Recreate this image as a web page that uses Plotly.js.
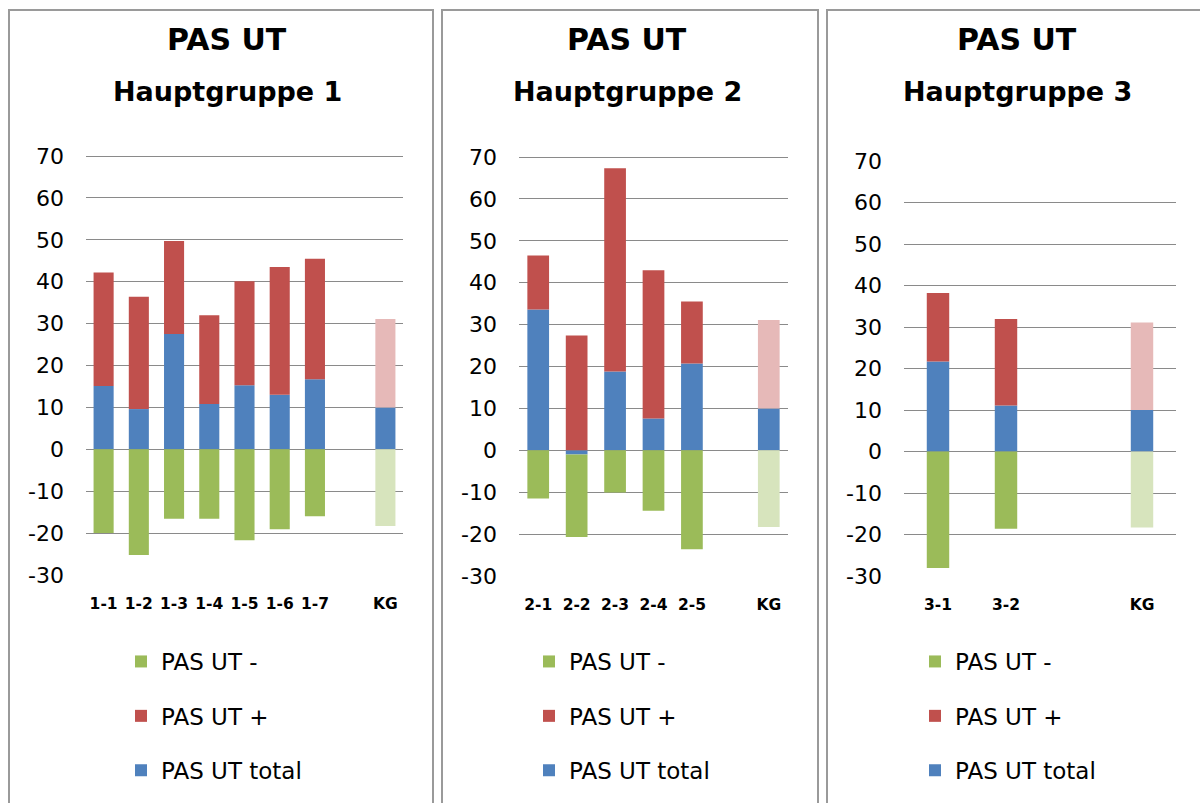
<!DOCTYPE html>
<html>
<head>
<meta charset="utf-8">
<script src="https://cdn.plot.ly/plotly-3.0.1.min.js"></script>
<style>html,body{margin:0;padding:0;background:#fff;}#chart{width:1200px;height:803px;}</style>
</head>
<body>
<div id="chart"></div>
<script>
// ---- data ----
const cats1 = ['1-1','1-2','1-3','1-4','1-5','1-6','1-7',' ','KG'];
const total1 = [15.1, 9.6, 27.5, 10.8, 15.3, 13.0, 16.7, null, 10.0];
const plus1  = [27.1, 26.8, 22.2, 21.2, 24.8, 30.5, 28.8, null, 21.1];
const minus1 = [-20.0, -25.2, -16.6, -16.6, -21.7, -19.1, -16.0, null, -18.3];

const cats2 = ['2-1','2-2','2-3','2-4','2-5',' ','KG'];
const total2 = [33.6, -1.0, 18.8, 7.6, 20.7, null, 10.0];
const plus2  = [12.9, 27.4, 48.5, 35.4, 14.8, null, 21.1];
const minus2 = [-11.5, -19.7, -10.1, -14.4, -23.6, null, -18.3];

const cats3 = ['3-1','3-2',' ','KG'];
const total3 = [21.7, 11.1, null, 10.0];
const plus3  = [16.5, 20.8, null, 21.1];
const minus3 = [-28.1, -18.6, null, -18.3];

const yTickVals = [-30, -20, -10, 0, 10, 20, 30, 40, 50, 60, 70];
const yTickText = ['-30', '-20', '-10', '0', '10', '20', '30', '40', '50', '60', '70'];

const seriesNames = ['PAS UT total', 'PAS UT +', 'PAS UT -'];
const titleMain = 'PAS UT';
const titleSubs = ['Hauptgruppe 1', 'Hauptgruppe 2', 'Hauptgruppe 3'];

// ---- styles ----
const BLUE = '#4F81BD', RED = '#C0504D', GREEN = '#9BBB59';
const RED_L = '#E6B9B8', GREEN_L = '#D7E4BD';
const FONT = 'DejaVu Sans, Verdana, sans-serif';

function colorsFor(cats, base, light) {
  return cats.map(c => c === 'KG' ? light : base);
}

const panels = [
  {cats: cats1, total: total1, plus: plus1, minus: minus1, x: 'x', y: 'y', legend: 'legend', w: 0.57},
  {cats: cats2, total: total2, plus: plus2, minus: minus2, x: 'x2', y: 'y2', legend: 'legend2', w: 0.565},
  {cats: cats3, total: total3, plus: plus3, minus: minus3, x: 'x3', y: 'y3', legend: 'legend3', w: 0.33}
];

const traces = [];
panels.forEach((p, i) => {
  const common = {type: 'bar', x: p.cats, xaxis: p.x, yaxis: p.y, legend: p.legend, width: p.w,
                  hoverinfo: 'x+y+name'};
  traces.push(Object.assign({}, common, {
    name: seriesNames[0], y: p.total, legendgroup: 't' + i, legendrank: 3,
    marker: {color: colorsFor(p.cats, BLUE, BLUE), line: {width: 0}}
  }));
  traces.push(Object.assign({}, common, {
    name: seriesNames[1], y: p.plus, legendgroup: 'p' + i, legendrank: 2,
    marker: {color: colorsFor(p.cats, RED, RED_L), line: {width: 0}}
  }));
  traces.push(Object.assign({}, common, {
    name: seriesNames[2], y: p.minus, legendgroup: 'm' + i, legendrank: 1,
    marker: {color: colorsFor(p.cats, GREEN, GREEN_L), line: {width: 0}}
  }));
});

const W = 1200, H = 803;
const px = v => v / W;
const py = v => 1 - v / H;

function yax(top, bottom) {
  // range extends slightly above 70 so the top gridline is drawn
  return {
    domain: [py(bottom), py(top - 1)], range: [-30, 70.24],
    tickmode: 'array', tickvals: yTickVals, ticktext: yTickText,
    showgrid: true, gridcolor: '#8a8a8a', gridwidth: 1.4,
    zeroline: true, zerolinecolor: '#8a8a8a', zerolinewidth: 1.4,
    showline: false, ticks: '', ticklabelstandoff: 21,
    tickfont: {family: FONT, size: 22, color: '#000'}, fixedrange: true
  };
}
function xax(l, r, cats) {
  return {
    domain: [px(l), px(r)], type: 'category', categoryorder: 'array', categoryarray: cats,
    showgrid: false, showline: false, zeroline: false, ticks: '', ticklabelstandoff: 17,
    tickfont: {family: FONT, size: 15.5, color: '#000', weight: 'bold'}, fixedrange: true
  };
}
function leg(xpx) {
  return {
    x: px(xpx), xanchor: 'left', y: py(640), yanchor: 'top',
    traceorder: 'grouped', tracegroupgap: 21.5, bgcolor: 'rgba(0,0,0,0)',
    font: {family: FONT, size: 23, color: '#000'}, itemclick: false, itemdoubleclick: false
  };
}

const panelCenters = [227, 627, 1017];
const annotations = [];
panelCenters.forEach((cx, i) => {
  annotations.push({xref: 'paper', yref: 'paper', x: px(cx), y: py(40), xanchor: 'center', yanchor: 'middle',
    text: '<b>' + titleMain + '</b>', showarrow: false, font: {family: FONT, size: 30, color: '#000'}});
  annotations.push({xref: 'paper', yref: 'paper', x: px(cx), y: py(91), xanchor: 'center', yanchor: 'middle',
    text: '<b>' + titleSubs[i] + '</b>', showarrow: false, font: {family: FONT, size: 27, color: '#000'}});
});

const borders = [[9, 433], [442, 818], [827, 1215]];
const shapes = borders.map(b => ({
  type: 'rect', xref: 'paper', yref: 'paper', x0: px(b[0]), x1: px(b[1]), y0: py(830), y1: py(10),
  line: {color: '#9a9a9a', width: 2}, fillcolor: 'rgba(0,0,0,0)', layer: 'below'
}));

const layout = {
  width: W, height: H, margin: {l: 0, r: 0, t: 0, b: 0},
  paper_bgcolor: '#fff', plot_bgcolor: 'rgba(0,0,0,0)',
  barmode: 'relative', showlegend: true,
  font: {family: FONT, color: '#000'},
  xaxis: xax(86, 403, cats1), yaxis: yax(156, 575),
  xaxis2: xax(519, 788, cats2), yaxis2: Object.assign(yax(157, 576), {anchor: 'x2'}),
  xaxis3: xax(904, 1176, cats3), yaxis3: Object.assign(yax(161, 576), {anchor: 'x3'}),
  legend: leg(121), legend2: leg(529), legend3: leg(915),
  annotations: annotations, shapes: shapes
};
layout.xaxis2.anchor = 'y2';
layout.xaxis3.anchor = 'y3';

Plotly.newPlot('chart', traces, layout, {displayModeBar: false, responsive: false});
</script>
</body>
</html>
